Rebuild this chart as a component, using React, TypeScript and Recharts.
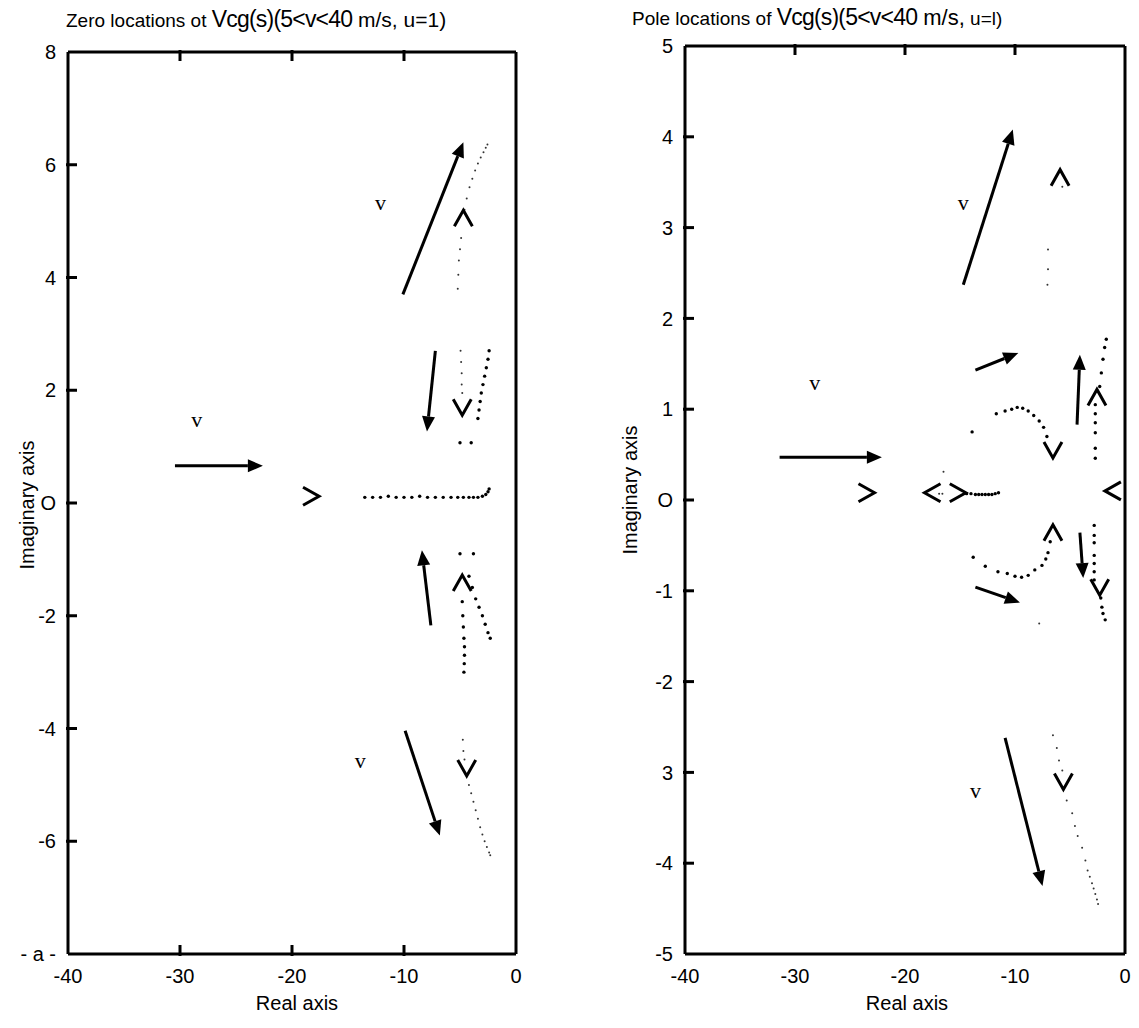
import React from 'react';
import { ScatterChart, Scatter, XAxis, YAxis, ReferenceLine } from 'recharts';

// ---- zero locations (left panel) ----
const zeroXTicks = [-40, -30, -20, -10, 0];
const zeroXLabels = ['-40', '-30', '-20', '-10', '0'];
const zeroYTicks = [8, 6, 4, 2, 0, -2, -4, -6, -8];
const zeroYLabels = ['8', '6', '4', '2', 'O', '-2', '-4', '-6', '- a -'];

const zeroFineDots = [
  [-5.2, 3.8], [-5.15, 4.05], [-5.1, 4.3], [-5.0, 4.5], [-4.9, 4.7], [-4.6, 5.2], [-4.4, 5.4],
  [-4.15, 5.6], [-3.9, 5.75], [-3.65, 5.9], [-3.4, 6.02], [-3.15, 6.13], [-2.9, 6.22], [-2.7, 6.3], [-2.55, 6.36],
  [-4.95, 2.7], [-4.9, 2.5], [-4.85, 2.3], [-4.85, 2.1], [-4.8, 1.95],
  [-4.75, -4.2], [-4.7, -4.4], [-4.6, -4.55], [-4.2, -5.0], [-4.0, -5.15], [-3.8, -5.3], [-3.6, -5.45],
  [-3.4, -5.6], [-3.2, -5.75], [-3.0, -5.88], [-2.8, -6.0], [-2.6, -6.1], [-2.4, -6.2], [-2.3, -6.25],
];
const zeroBoldDots = [
  [-2.4, 2.7], [-2.5, 2.55], [-2.65, 2.4], [-2.8, 2.25], [-2.95, 2.1], [-3.1, 1.95], [-3.2, 1.8],
  [-3.3, 1.65], [-3.4, 1.5], [-5.0, 1.07], [-4.0, 1.07],
  [-13.5, 0.1], [-12.8, 0.1], [-12.1, 0.1], [-11.4, 0.12], [-10.7, 0.1], [-10.0, 0.1], [-9.3, 0.1],
  [-8.6, 0.12], [-7.9, 0.1], [-7.2, 0.1], [-6.5, 0.1], [-5.8, 0.1], [-5.2, 0.1], [-4.7, 0.1],
  [-4.2, 0.1], [-3.8, 0.1], [-3.4, 0.1], [-3.0, 0.12], [-2.7, 0.15], [-2.5, 0.2], [-2.4, 0.25],
  [-5.0, -0.9], [-3.8, -0.9],
  [-4.8, -1.75], [-4.75, -2.0], [-4.7, -2.2], [-4.65, -2.4], [-4.6, -2.55], [-4.6, -2.7], [-4.62, -2.85], [-4.65, -3.0],
  [-4.2, -1.3], [-3.9, -1.5], [-3.6, -1.7], [-3.3, -1.85], [-3.0, -2.0], [-2.75, -2.15], [-2.5, -2.3], [-2.3, -2.4],
];
const zeroChevrons = [
  { x: -18.3, y: 0.12, dir: 'right' },
  { x: -4.7, y: 5.05, dir: 'up' },
  { x: -4.8, y: 1.7, dir: 'down' },
  { x: -4.8, y: -1.42, dir: 'up' },
  { x: -4.4, y: -4.7, dir: 'down' },
];
const zeroArrows = [
  { x1: -10.1, y1: 3.7, x2: -4.7, y2: 6.4 },
  { x1: -7.2, y1: 2.7, x2: -7.95, y2: 1.27 },
  { x1: -30.45, y1: 0.66, x2: -22.6, y2: 0.66 },
  { x1: -7.6, y1: -2.17, x2: -8.4, y2: -0.84 },
  { x1: -9.9, y1: -4.04, x2: -6.8, y2: -5.9 },
];
const zeroLetters = [
  { x: -12.1, y: 5.33, text: 'v' },
  { x: -28.5, y: 1.48, text: 'v' },
  { x: -13.9, y: -4.57, text: 'v' },
];

// ---- pole locations (right panel) ----
const poleXTicks = [-40, -30, -20, -10, 0];
const poleXLabels = ['-40', '-30', '-20', '-10', '0'];
const poleYTicks = [5, 4, 3, 2, 1, 0, -1, -2, -3, -4, -5];
const poleYLabels = ['5', '4', '3', '2', '1', 'O', '-1', '-2', '3', '-4', '-5'];

const poleFineDots = [
  [-5.7, 3.45], [-7.0, 2.76], [-7.0, 2.54], [-7.05, 2.37],
  [-16.9, 0.07], [-16.6, 0.07], [-16.5, 0.31],
  [-6.55, -2.59], [-6.2, -2.73], [-6.0, -2.87], [-5.7, -2.98], [-5.3, -3.31], [-4.8, -3.45], [-4.55, -3.59],
  [-4.3, -3.7], [-3.9, -3.83], [-3.6, -3.97], [-3.4, -4.08], [-3.2, -4.15], [-3.0, -4.22], [-2.85, -4.28],
  [-2.7, -4.34], [-2.55, -4.4], [-2.45, -4.45],
  [-7.8, -1.36],
];
const poleBoldDots = [
  [-13.9, 0.75], [-11.7, 0.95], [-10.9, 0.98], [-10.3, 1.0], [-9.8, 1.02], [-9.3, 1.01], [-8.8, 0.98],
  [-8.3, 0.93], [-7.8, 0.87], [-7.4, 0.8], [-7.1, 0.7],
  [-2.7, 1.05], [-2.7, 0.95], [-2.7, 0.85], [-2.7, 0.74], [-2.7, 0.57], [-2.7, 0.46],
  [-2.3, 1.25], [-2.15, 1.4], [-2.0, 1.55], [-1.85, 1.68], [-1.7, 1.77],
  [-14.4, 0.07], [-14.0, 0.07], [-13.6, 0.06], [-13.3, 0.06], [-13.0, 0.06], [-12.7, 0.06],
  [-12.4, 0.06], [-12.1, 0.06], [-11.8, 0.07], [-11.5, 0.08],
  [-13.8, -0.63], [-12.7, -0.73], [-11.55, -0.79], [-10.7, -0.81], [-10.0, -0.84], [-9.4, -0.85],
  [-8.8, -0.83], [-8.2, -0.77], [-7.55, -0.72], [-7.2, -0.65], [-7.0, -0.58], [-6.8, -0.46],
  [-2.8, -0.28], [-2.8, -0.39], [-2.8, -0.47], [-2.8, -0.61], [-2.8, -0.7], [-2.8, -0.79], [-2.8, -0.88],
  [-2.2, -1.08], [-2.1, -1.18], [-2.0, -1.25], [-1.8, -1.32],
];
const poleChevrons = [
  { x: -5.9, y: 3.55, dir: 'up' },
  { x: -6.55, y: 0.55, dir: 'down' },
  { x: -2.55, y: 1.13, dir: 'up' },
  { x: -1.1, y: 0.1, dir: 'left' },
  { x: -17.5, y: 0.08, dir: 'left' },
  { x: -15.2, y: 0.08, dir: 'right' },
  { x: -23.5, y: 0.08, dir: 'right' },
  { x: -6.55, y: -0.36, dir: 'up' },
  { x: -2.3, y: -0.96, dir: 'down' },
  { x: -5.6, y: -3.1, dir: 'down' },
];
const poleArrows = [
  { x1: -14.7, y1: 2.37, x2: -10.2, y2: 4.08 },
  { x1: -13.6, y1: 1.43, x2: -9.7, y2: 1.62 },
  { x1: -4.36, y1: 0.83, x2: -4.1, y2: 1.6 },
  { x1: -31.4, y1: 0.47, x2: -22.1, y2: 0.47 },
  { x1: -13.6, y1: -0.96, x2: -9.55, y2: -1.13 },
  { x1: -4.1, y1: -0.36, x2: -3.8, y2: -0.86 },
  { x1: -10.9, y1: -2.62, x2: -7.5, y2: -4.25 },
];
const poleLetters = [
  { x: -14.7, y: 3.28, text: 'v' },
  { x: -28.2, y: 1.29, text: 'v' },
  { x: -13.6, y: -3.2, text: 'v' },
];

const innerXTicks = [-30, -20, -10];

const toPts = (arr: number[][]) => arr.map(([x, y]) => ({ x, y }));

const sans = '"Liberation Sans", Arial, sans-serif';
const serif = '"Liberation Serif", "Times New Roman", serif';
const frame = { stroke: '#000', strokeWidth: 3 };

const ArrowShape = (props: any) => {
  const { x1, y1, x2, y2 } = props;
  const ang = Math.atan2(y2 - y1, x2 - x1);
  const L = 15, W = 6.5;
  const bx = x2 - L * Math.cos(ang);
  const by = y2 - L * Math.sin(ang);
  const px = -Math.sin(ang) * W;
  const py = Math.cos(ang) * W;
  return (
    <g>
      <line x1={x1} y1={y1} x2={bx} y2={by} stroke="#000" strokeWidth={3} />
      <polygon points={`${x2},${y2} ${bx + px},${by + py} ${bx - px},${by - py}`} fill="#000" />
    </g>
  );
};

// inward tick: a short stub from the first end of a segment toward the second
const TickStub = (props: any) => {
  const { x1, y1, x2, y2 } = props;
  const len = Math.hypot(x2 - x1, y2 - y1) || 1;
  const ux = (x2 - x1) / len;
  const uy = (y2 - y1) / len;
  return (
    <g>
      <line x1={x1 - ux * 2} y1={y1 - uy * 2} x2={x1 + ux * 9} y2={y1 + uy * 9} stroke="#000" strokeWidth={3} />
    </g>
  );
};

const ChevronShape = (props: any) => {
  const { cx, cy, payload } = props;
  const a = 8, b = 9;
  let d = '';
  if (payload.dir === 'right') d = `M${cx - a},${cy - b} L${cx + a},${cy} L${cx - a},${cy + b}`;
  if (payload.dir === 'left') d = `M${cx + a},${cy - b} L${cx - a},${cy} L${cx + a},${cy + b}`;
  if (payload.dir === 'up') d = `M${cx - b},${cy + a} L${cx},${cy - a} L${cx + b},${cy + a}`;
  if (payload.dir === 'down') d = `M${cx - b},${cy - a} L${cx},${cy + a} L${cx + b},${cy - a}`;
  return <path d={d} fill="none" stroke="#000" strokeWidth={3} />;
};

const FineDot = (props: any) => <circle cx={props.cx} cy={props.cy} r={1} fill="#333" />;
const BoldDot = (props: any) => <circle cx={props.cx} cy={props.cy} r={1.7} fill="#000" />;
const Letter = (props: any) => (
  <text x={props.cx} y={props.cy} textAnchor="middle" dominantBaseline="central"
    fontFamily={serif} fontSize={22} fill="#000">{props.payload.text}</text>
);

const FS = 20;

const makeXLabel = (labels: string[], ticks: number[]) => (props: any) => {
  const { x, y, payload } = props;
  const label = labels[ticks.indexOf(payload.value)] ?? String(payload.value);
  return (
    <text x={x} y={y} dy="0.71em" textAnchor="middle" fontFamily={sans} fontSize={FS} fill="#000">{label}</text>
  );
};

const makeYLabel = (labels: string[], ticks: number[]) => (props: any) => {
  const { x, y, payload } = props;
  const label = labels[ticks.indexOf(payload.value)] ?? String(payload.value);
  return (
    <text x={x} y={y} dy="0.355em" textAnchor="end" fontFamily={sans} fontSize={FS} fill="#000">{label}</text>
  );
};

interface PanelProps {
  width: number;
  margin: { top: number; right: number; bottom: number; left: number };
  yMax: number;
  xTicks: number[];
  xLabels: string[];
  yTicks: number[];
  yLabels: string[];
  fine: number[][];
  bold: number[][];
  chevrons: any[];
  arrows: any[];
  letters: any[];
  bottomTicks: boolean;
}

function Panel(p: PanelProps) {
  const stubs = [
    ...p.yTicks.filter((v) => Math.abs(v) < p.yMax).map((v) => [{ x: -40, y: v }, { x: 0, y: v }]),
    ...innerXTicks.map((v) => [{ x: v, y: p.yMax }, { x: v, y: -p.yMax }]),
    ...(p.bottomTicks ? innerXTicks.map((v) => [{ x: v, y: -p.yMax }, { x: v, y: p.yMax }]) : []),
  ];
  return (
    <ScatterChart width={p.width} height={1028} margin={p.margin}>
      <XAxis xAxisId="top" orientation="top" type="number" dataKey="x" domain={[-40, 0]}
        ticks={innerXTicks} height={1} tick={false} axisLine={frame} tickLine={false} />
      <XAxis type="number" dataKey="x" domain={[-40, 0]} ticks={p.xTicks} interval={0}
        height={40} axisLine={frame} tickSize={0} tickMargin={15} tickLine={false}
        tick={makeXLabel(p.xLabels, p.xTicks)} />
      <YAxis type="number" dataKey="y" domain={[-p.yMax, p.yMax]} ticks={p.yTicks} interval={0}
        width={50} axisLine={frame} tickSize={0} tickMargin={12} tickLine={false}
        tick={makeYLabel(p.yLabels, p.yTicks)} />
      <YAxis yAxisId="right" orientation="right" type="number" domain={[-p.yMax, p.yMax]}
        width={1} axisLine={frame} tick={false} tickLine={false} />
      {stubs.map((s, i) => (
        <ReferenceLine key={`s${i}`} segment={s} shape={TickStub} ifOverflow="visible" />
      ))}
      {p.arrows.map((a, i) => (
        <ReferenceLine key={`a${i}`} segment={[{ x: a.x1, y: a.y1 }, { x: a.x2, y: a.y2 }]}
          shape={ArrowShape} ifOverflow="visible" />
      ))}
      <Scatter data={toPts(p.fine)} shape={FineDot} isAnimationActive={false} />
      <Scatter data={toPts(p.bold)} shape={BoldDot} isAnimationActive={false} />
      <Scatter data={p.chevrons} shape={ChevronShape} isAnimationActive={false} />
      <Scatter data={p.letters} shape={Letter} isAnimationActive={false} />
    </ScatterChart>
  );
}

const abs = (left: number, top: number, extra: React.CSSProperties = {}): React.CSSProperties => ({
  position: 'absolute', left, top, whiteSpace: 'nowrap', fontFamily: sans, color: '#000', ...extra,
});

export default function App() {
  return (
    <div style={{ position: 'relative', width: 1139, height: 1028, margin: -8, background: '#fff' }}>
      <div style={abs(0, 0)}>
        <Panel width={560} margin={{ top: 51, right: 43, bottom: 34, left: 18 }} yMax={8}
          xTicks={zeroXTicks} xLabels={zeroXLabels} yTicks={zeroYTicks} yLabels={zeroYLabels}
          fine={zeroFineDots} bold={zeroBoldDots} chevrons={zeroChevrons} arrows={zeroArrows}
          letters={zeroLetters} bottomTicks={true} />
      </div>
      <div style={abs(560, 0)}>
        <Panel width={579} margin={{ top: 45, right: 13, bottom: 34, left: 75 }} yMax={5}
          xTicks={poleXTicks} xLabels={poleXLabels} yTicks={poleYTicks} yLabels={poleYLabels}
          fine={poleFineDots} bold={poleBoldDots} chevrons={poleChevrons} arrows={poleArrows}
          letters={poleLetters} bottomTicks={false} />
      </div>

      <div style={abs(66, 6, { fontSize: 19 })}>
        Zero locations ot <span style={{ fontSize: 23, letterSpacing: -0.8 }}>Vcg(s)(5&lt;v&lt;40</span>
        <span style={{ fontSize: 21 }}> m/s, u=1)</span>
      </div>
      <div style={abs(632, 4, { fontSize: 19 })}>
        Pole locations of <span style={{ fontSize: 23, letterSpacing: -0.8 }}>Vcg(s)(5&lt;v&lt;40</span>
        <span style={{ fontSize: 22 }}> m/s,</span>
        <span style={{ fontSize: 19 }}> u=l)</span>
      </div>

      <div style={abs(297, 1003, { fontSize: 20, transform: 'translate(-50%, -50%)' })}>Real axis</div>
      <div style={abs(907, 1003, { fontSize: 20, transform: 'translate(-50%, -50%)' })}>Real axis</div>
      <div style={abs(27, 505, { fontSize: 20, transform: 'translate(-50%, -50%) rotate(-90deg)' })}>Imaginary axis</div>
      <div style={abs(630, 490, { fontSize: 20, transform: 'translate(-50%, -50%) rotate(-90deg)' })}>Imaginary axis</div>
    </div>
  );
}
